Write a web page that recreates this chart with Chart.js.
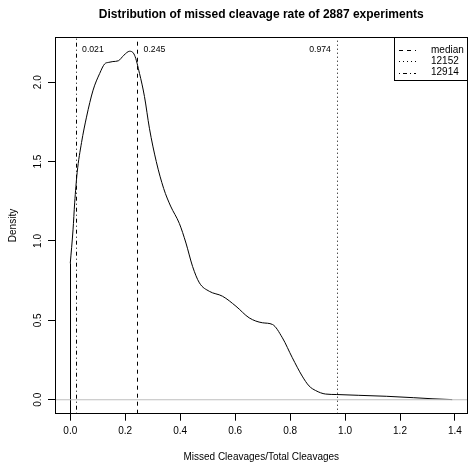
<!DOCTYPE html>
<html><head><meta charset="utf-8">
<script src="https://cdn.jsdelivr.net/npm/chart.js@4"></script>
<style>html,body{margin:0;padding:0;background:#fff;}#wrap{width:469px;height:463px;}</style>
</head><body><div id="wrap"><canvas id="c" width="469" height="463"></canvas></div>
<script>
const densityX = [0, 0.010, 0.016, 0.025, 0.041, 0.059, 0.083, 0.107, 0.125, 0.140, 0.155, 0.175, 0.195, 0.216, 0.234, 0.252, 0.270, 0.288, 0.313, 0.340, 0.365, 0.397, 0.421, 0.445, 0.470, 0.506, 0.554, 0.603, 0.651, 0.699, 0.736, 0.772, 0.808, 0.844, 0.869, 0.893, 0.929, 0.970, 1.050, 1.150, 1.250, 1.320, 1.390];
const densityY = [0.86, 1.07, 1.24, 1.43, 1.62, 1.78, 1.95, 2.055, 2.115, 2.125, 2.13, 2.135, 2.17, 2.195, 2.17, 2.055, 1.91, 1.71, 1.50, 1.33, 1.22, 1.11, 0.987, 0.84, 0.736, 0.683, 0.652, 0.589, 0.516, 0.485, 0.474, 0.39, 0.265, 0.149, 0.087, 0.058, 0.036, 0.033, 0.028, 0.022, 0.013, 0.006, 0.001];
const xTicks = [0, 0.2, 0.4, 0.6, 0.8, 1.0, 1.2, 1.4];
const yTicks = [0, 0.5, 1.0, 1.5, 2.0];
const xRange = [-0.0556, 1.4456];
const yRange = [-0.0878, 2.2828];
const legendLabels = ['median', '12152', '12914'];
const markerValues = [0.245, 0.974, 0.021];
const markerTexts = ['0.245', '0.974', '0.021'];
const markerDashes = [[4, 4], [1, 3], [1, 3, 4, 3]];
const titleText = 'Distribution of missed cleavage rate of 2887 experiments';
const xTitle = 'Missed Cleavages/Total Cleavages';
const yTitle = 'Density';

const FONT = '"Liberation Sans", Arial, Helvetica, sans-serif';

const curvePts = densityX.map((x, i) => ({x: x, y: densityY[i]}));
const datasets = [];
datasets.push({label: 'density', data: curvePts, borderColor: '#000', borderWidth: 1, pointRadius: 0, showLine: true, cubicInterpolationMode: 'monotone', order: 2});
datasets.push({label: 'edge', crisp: densityX[0], data: [{x: densityX[0], y: yRange[0]}, {x: densityX[0], y: densityY[0]}], borderColor: '#000', borderWidth: 1, pointRadius: 0, showLine: true, order: 2});
datasets.push({label: 'zero', data: [{x: xRange[0], y: 0}, {x: xRange[1], y: 0}], borderColor: '#BEBEBE', borderWidth: 1, pointRadius: 0, showLine: true, order: 1});
markerValues.forEach((v, i) => {
  datasets.push({label: legendLabels[i], crisp: v, data: [{x: v, y: yRange[0]}, {x: v, y: yRange[1]}], borderColor: '#000', borderWidth: 1, borderDash: markerDashes[i], pointRadius: 0, showLine: true, order: 0});
});

// snap vertical reference lines to whole pixels so dashes/dots stay crisp
const crispPlugin = {
  id: 'crisp',
  beforeDatasetDraw(chart, args) {
    const ds = chart.data.datasets[args.index];
    chart.ctx.save();
    if (ds.crisp !== undefined) {
      const px = chart.scales.x.getPixelForValue(ds.crisp);
      chart.ctx.translate(Math.round(px - 0.5) + 0.5 - px, 0);
    }
  },
  afterDatasetDraw(chart) { chart.ctx.restore(); }
};

const framePlugin = {
  id: 'frame',
  afterDraw(chart) {
    const {ctx, chartArea: a, scales} = chart;
    ctx.save();
    ctx.fillStyle = '#000';
    ctx.font = '8.7px ' + FONT;
    ctx.textBaseline = 'middle';
    const ty = 50;
    markerValues.forEach((v, i) => {
      const px = scales.x.getPixelForValue(v);
      if (v > 0.5) { ctx.textAlign = 'right'; ctx.fillText(markerTexts[i], px - 7, ty); }
      else { ctx.textAlign = 'left'; ctx.fillText(markerTexts[i], px + 6, ty); }
    });
    const lx0 = 394.5, ly0 = Math.floor(a.top) + 0.5, lx1 = Math.floor(a.right) + 0.5, ly1 = 80.5;
    ctx.fillStyle = '#fff';
    ctx.fillRect(lx0, ly0, lx1 - lx0, ly1 - ly0);
    ctx.strokeStyle = '#000';
    ctx.lineWidth = 1;
    ctx.setLineDash([]);
    ctx.strokeRect(lx0, ly0, lx1 - lx0, ly1 - ly0);
    ctx.font = '10px ' + FONT;
    ctx.textAlign = 'left';
    ctx.fillStyle = '#000';
    legendLabels.forEach((lab, i) => {
      const y = 50 + i * 11.3;
      ctx.setLineDash(markerDashes[i]);
      ctx.beginPath();
      ctx.moveTo(399, Math.round(y) + 0.5);
      ctx.lineTo(416, Math.round(y) + 0.5);
      ctx.stroke();
      ctx.setLineDash([]);
      ctx.fillText(lab, 431, y);
    });
    ctx.setLineDash([]);
    const l = Math.floor(a.left) + 0.5, t = Math.floor(a.top) + 0.5, r = Math.floor(a.right) + 0.5, b = Math.floor(a.bottom) + 0.5;
    ctx.strokeRect(l, t, r - l, b - t);
    ctx.restore();
  }
};

new Chart(document.getElementById('c'), {
  type: 'scatter',
  data: {datasets: datasets},
  options: {
    responsive: false,
    animation: false,
    devicePixelRatio: 1,
    layout: {padding: {left: 0, right: 1.5, top: 0, bottom: 0}},
    plugins: {
      legend: {display: false},
      tooltip: {enabled: false},
      title: {display: true, fullSize: false, text: titleText, color: '#000', font: {family: FONT, size: 12, weight: 'bold'}, padding: {top: 7, bottom: 15.9}}
    },
    scales: {
      x: {
        type: 'linear', min: xRange[0], max: xRange[1],
        afterBuildTicks: s => { s.ticks = xTicks.map(v => ({value: v})); },
        afterFit: s => { s.height = 49.3; },
        ticks: {color: '#000', font: {family: FONT, size: 10}, padding: 5, maxRotation: 0, callback: v => Number(v).toFixed(1)},
        grid: {drawOnChartArea: false, drawTicks: true, tickLength: 7, color: '#000', tickColor: '#000', lineWidth: 1},
        border: {display: false},
        title: {display: true, text: xTitle, color: '#000', font: {family: FONT, size: 10}, padding: {top: 0, bottom: 0}}
      },
      y: {
        type: 'linear', min: yRange[0], max: yRange[1],
        afterBuildTicks: s => { s.ticks = yTicks.map(v => ({value: v})); },
        afterFit: s => { s.width = 55; },
        ticks: {color: '#000', font: {family: FONT, size: 10}, padding: 3, minRotation: 90, maxRotation: 90, crossAlign: 'center', callback: v => Number(v).toFixed(1)},
        grid: {drawOnChartArea: false, drawTicks: true, tickLength: 7, color: '#000', tickColor: '#000', lineWidth: 1},
        border: {display: false},
        title: {display: true, text: yTitle, color: '#000', font: {family: FONT, size: 10}, padding: {top: 7, bottom: 0}}
      }
    }
  },
  plugins: [crispPlugin, framePlugin]
});
</script></body></html>
